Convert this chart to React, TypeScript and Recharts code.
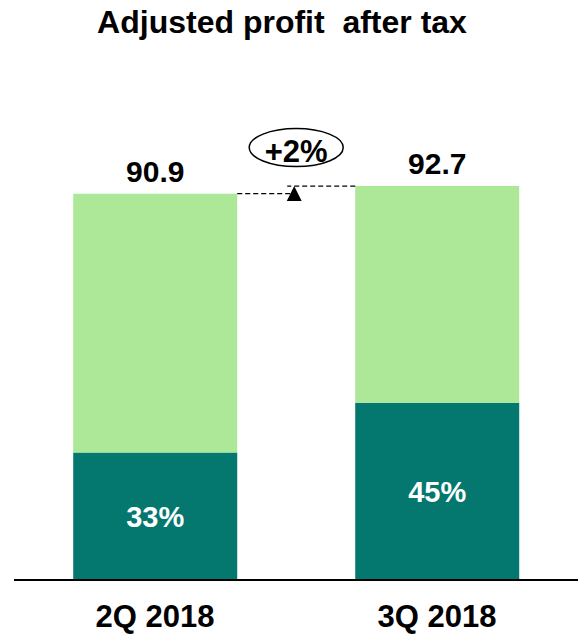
import React from 'react';
import { BarChart, Bar, XAxis, YAxis, LabelList, Customized } from 'recharts';

// quarterly adjusted profit after tax, with the dark share in percent
const quarters = ['2Q 2018', '3Q 2018'];
const totals = [90.9, 92.7];
const sharePct = [33, 45];
const growthLabel = '+2%';

const data = quarters.map((q, i) => {
  const dark = +(totals[i] * sharePct[i] / 100).toFixed(2);
  return { quarter: q, dark, rest: +(totals[i] - dark).toFixed(2), total: totals[i], pct: sharePct[i] };
});

const W = 583;
const H = 634;
const MARGIN = { top: 155, right: 5, bottom: 0, left: 14 };
const BAND = (W - MARGIN.left - MARGIN.right) / quarters.length;
const FONT = '"Liberation Sans", Arial, Helvetica, sans-serif';
const LIGHT = '#ace898';
const DARK = '#04776f';

// total label on top of each stack, plus the growth marker between the two bars
const TopLabel = (props: any) => {
  const { index, value } = props;
  const x = Number(props.x);
  const y = Number(props.y);
  const w = Number(props.width);
  const gap = BAND - w;
  const label = (
    <text x={x + w / 2} y={y - 12} textAnchor="middle" fontSize={30} fontWeight="bold" fill="#000" fontFamily={FONT}>
      {Number(value).toFixed(1)}
    </text>
  );
  if (index === 0) {
    return (
      <g>
        {label}
        <line x1={x + w} y1={y} x2={x + w + gap / 2} y2={y} stroke="#000" strokeWidth={1.2} strokeDasharray="5 3" />
      </g>
    );
  }
  const ax = x - gap / 2 - 2;
  return (
    <g>
      {label}
      <line x1={x} y1={y} x2={ax - 7} y2={y} stroke="#000" strokeWidth={1.2} strokeDasharray="5 3" />
      <polygon points={`${ax},${y} ${ax - 7.5},${y + 15} ${ax + 7.5},${y + 15}`} fill="#000" />
      <ellipse cx={ax + 2} cy={y - 38.5} rx={47} ry={19} fill="#fff" stroke="#000" strokeWidth={1.5} />
      <text x={ax + 2} y={y - 24.5} textAnchor="middle" fontSize={31} fontWeight="bold" fill="#000" fontFamily={FONT}>
        {growthLabel}
      </text>
    </g>
  );
};

const QuarterTick = (props: any) => {
  const { x, y, payload } = props;
  return (
    <text x={x} y={Number(y)} dy={45} textAnchor="middle" fontSize={31} fontWeight="bold" fill="#000" fontFamily={FONT}>
      {payload.value}
    </text>
  );
};

const Title = () => (
  <text x={282} y={33} textAnchor="middle" fontSize={32} fontWeight="bold" fill="#000" fontFamily={FONT} style={{ whiteSpace: 'pre' }}>
    Adjusted profit  after tax
  </text>
);

export default function App() {
  return (
    <div style={{ position: 'absolute', left: 0, top: 0, width: W, height: H, background: '#fff' }}>
      <BarChart width={W} height={H} data={data} margin={MARGIN} barCategoryGap="21%">
        <YAxis hide domain={[0, 100]} />
        <XAxis
          dataKey="quarter"
          height={54}
          tickLine={false}
          tickSize={0}
          axisLine={{ stroke: '#000', strokeWidth: 2 }}
          tick={<QuarterTick />}
          interval={0}
        />
        <Bar dataKey="dark" stackId="a" fill={DARK} isAnimationActive={false}>
          <LabelList
            dataKey="pct"
            position="center"
            formatter={(v: any) => `${v}%`}
            fill="#fff"
            fontSize={29}
            fontWeight="bold"
            fontFamily={FONT}
          />
        </Bar>
        <Bar dataKey="rest" stackId="a" fill={LIGHT} isAnimationActive={false}>
          <LabelList dataKey="total" content={<TopLabel />} />
        </Bar>
        <Customized component={<Title />} />
      </BarChart>
    </div>
  );
}
